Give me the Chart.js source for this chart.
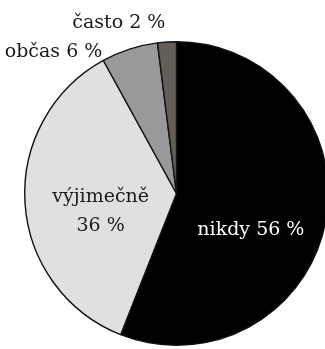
<!DOCTYPE html>
<html>
<head>
<meta charset="utf-8">
<script src="https://cdn.jsdelivr.net/npm/chart.js@4/dist/chart.umd.min.js"></script>
<style>
  html, body { margin: 0; padding: 0; background: #fff; overflow: hidden; }
  #wrap { width: 340px; height: 349px; position: relative; }
</style>
</head>
<body>
<div id="wrap"><canvas id="myChart"></canvas></div>
<script>
const kategorie = ['nikdy', 'výjimečně', 'občas', 'často'];
const hodnoty = [56, 36, 6, 2];
const barvy = ['#000000', '#e0e0e0', '#999999', '#645e59'];
const barvyTextu = ['#ffffff', '#1a1a1a', '#1a1a1a', '#1a1a1a'];

// poloha popisku vůči středu koláče, v násobcích poloměru (x, y)
const popisky = [
  { radky: ['nikdy 56 %'], x: 0.49, y: 0.24 },
  { radky: ['výjimečně', '36 %'], x: -0.50, y: 0.12 },
  { radky: ['občas 6 %'], x: -0.81, y: -0.93 },
  { radky: ['často 2 %'], x: -0.38, y: -1.12 }
];

const textPlugin = {
  id: 'textPlugin',
  afterDatasetsDraw(chart) {
    const ctx = chart.ctx;
    const arcs = chart.getDatasetMeta(0).data;
    ctx.save();
    ctx.font = '19px "DejaVu Serif"';
    ctx.textAlign = 'center';
    ctx.textBaseline = 'middle';
    for (let i = 0; i < arcs.length; i++) {
      const a = arcs[i];
      const r = a.outerRadius;
      const p = popisky[i];
      ctx.fillStyle = barvyTextu[i];
      const lh = 29;
      for (let j = 0; j < p.radky.length; j++) {
        const dy = (j - (p.radky.length - 1) / 2) * lh;
        ctx.fillText(p.radky[j], a.x + p.x * r, a.y + p.y * r + dy);
      }
    }
    ctx.restore();
  }
};

const ctx = document.getElementById('myChart');

new Chart(ctx, {
  type: 'pie',
  data: {
    labels: kategorie,
    datasets: [{
      data: hodnoty,
      backgroundColor: barvy,
      borderColor: '#111111',
      borderWidth: 1.4
    }]
  },
  options: {
    responsive: true,
    maintainAspectRatio: false,
    animation: false,
    layout: { padding: { left: 24, right: 11, top: 41, bottom: 3 } },
    plugins: {
      legend: { display: false },
      tooltip: { enabled: false }
    }
  },
  plugins: [textPlugin]
});
</script>
</body>
</html>
